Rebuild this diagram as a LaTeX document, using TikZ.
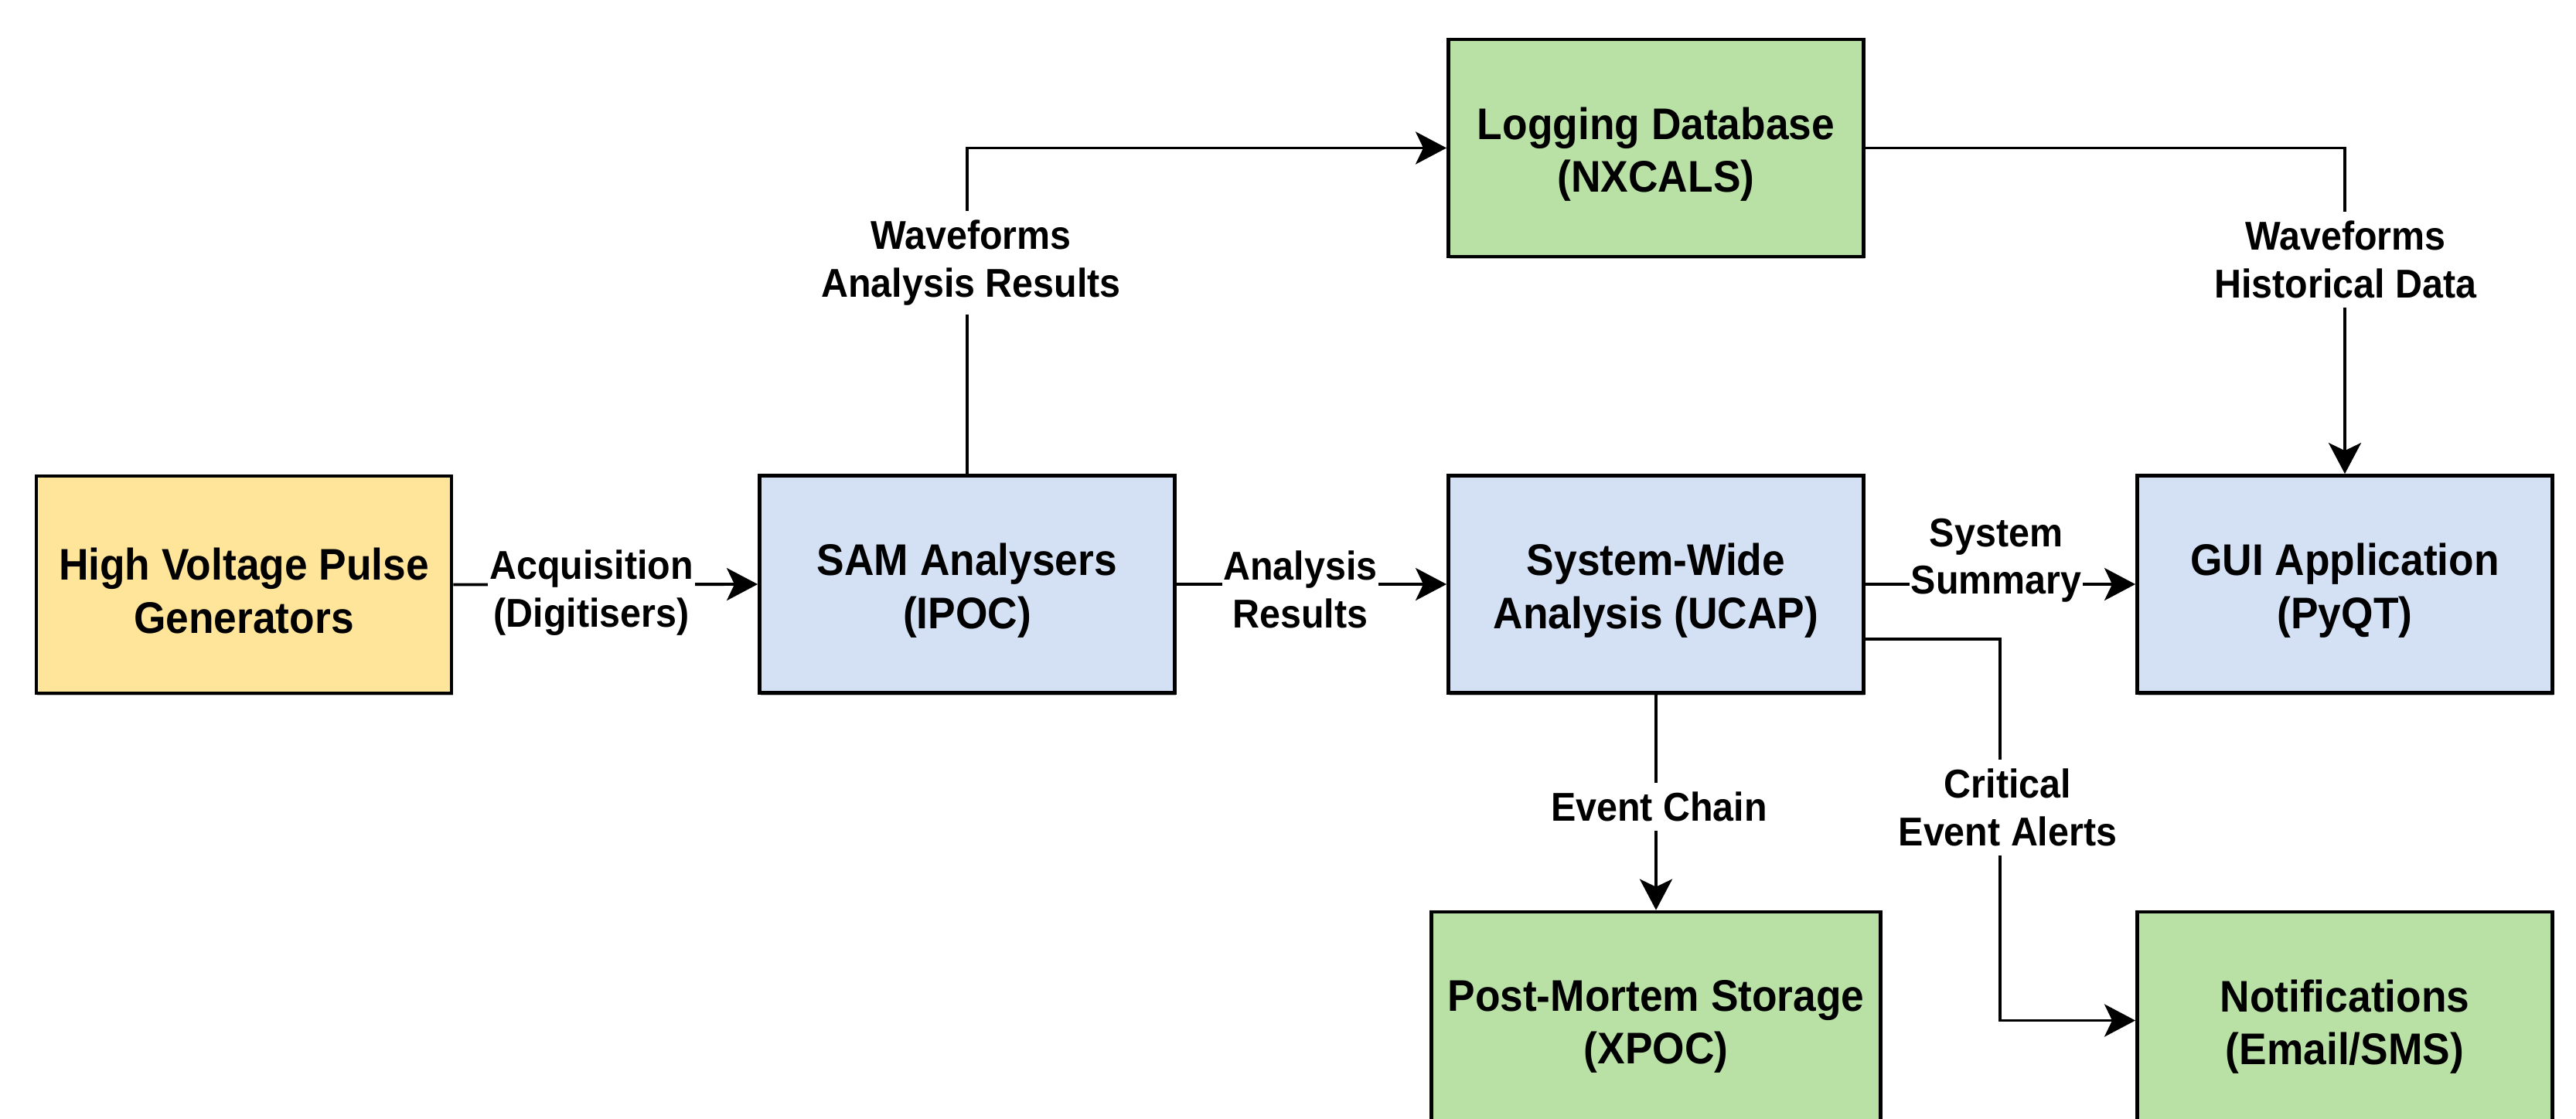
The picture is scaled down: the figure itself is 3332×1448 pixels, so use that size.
\documentclass[tikz,border=0pt]{standalone}
\usepackage{fontspec}
\setmainfont{Liberation Sans}[FakeStretch=0.93]
\usetikzlibrary{arrows.meta,shadows}

\definecolor{sourcefill}{HTML}{FFE599}
\definecolor{procfill}{HTML}{D4E1F5}
\definecolor{storefill}{HTML}{B9E0A5}

\tikzset{
  block/.style={draw=black, line width=1.3pt, minimum width=5.37cm,
    minimum height=2.81cm, inner sep=0pt,
    drop shadow={shadow xshift=0.4pt, shadow yshift=-0.9pt, opacity=0.25, fill=black}},
  blocktext/.style={align=center, inner sep=0pt, yshift=-2.3pt,
    font=\fontsize{16.3}{19.4}\selectfont\bfseries},
  flow/.style={draw=black, line width=1.1pt,
    -{Stealth[length=0.4cm, width=0.42cm, inset=0.1cm]}},
  lbl/.style={fill=white, align=center, inner xsep=0.5pt, inner ysep=3.4pt,
    font=\fontsize{14.8}{17.5}\selectfont\bfseries},
}

\begin{document}
\begin{tikzpicture}[x=0.01cm, y=-0.01cm]
\useasboundingbox (0,0) rectangle (3332,1448);
\clip (0,0) rectangle (3332,1448);

% blocks
\node[block, fill=sourcefill] (hv)  at (315.5,756.5) {};
\node[block, fill=procfill]   (sam) at (1251,756)    {};
\node[block, fill=procfill]   (swa) at (2142,756)    {};
\node[block, fill=procfill]   (gui) at (3033,756)    {};
\node[block, fill=storefill]  (log) at (2142,191.5)  {};
\node[block, fill=storefill, minimum width=5.81cm] (pm) at (2142,1320.5) {};
\node[block, fill=storefill]  (ntf) at (3033,1320.5) {};

% block captions
\node[blocktext] (hvtxt)  at (hv)  {High Voltage Pulse\\Generators};
\node[blocktext] (samtxt) at (sam) {SAM Analysers\\(IPOC)};
\node[blocktext] (swatxt) at (swa) {System-Wide\\Analysis (UCAP)};
\node[blocktext] (guitxt) at (gui) {GUI Application\\(PyQT)};
\node[blocktext] (logtxt) at (log) {Logging Database\\(NXCALS)};
\node[blocktext] (pmtxt)  at (pm)  {Post-Mortem Storage\\(XPOC)};
\node[blocktext] (ntftxt) at (ntf) {Notifications\\(Email/SMS)};

% helper points for the alert route
\coordinate (swaout) at (swa.east |- 0,827);
\coordinate (alertx) at (2587,0);

% connectors
\draw[flow] (hv.east) -- (sam.west);
\draw[flow] (sam.east) -- (swa.west);
\draw[flow] (sam.north) |- (log.west);
\draw[flow] (log.east) -| (gui.north);
\draw[flow] (swa.east) -- (gui.west);
\draw[flow] (swa.south) -- (pm.north);
\draw[flow] (swaout) -| (alertx |- ntf.west) -- (ntf.west);

% connector labels
\node[lbl] (lacq)   at (765,767)   {Acquisition\\(Digitisers)};
\node[lbl] (lres)   at (1682,763)  {Analysis\\Results};
\node[lbl] (lwave)  at (1256,340)  {Waveforms\\Analysis Results};
\node[lbl] (lhist)  at (3034,336)  {Waveforms\\Historical Data};
\node[lbl] (lsum)   at (2582,725)  {System\\Summary};
\node[lbl] (lchain) at (2146,1044) {Event Chain};
\node[lbl] (lalert) at (2597,1045) {Critical\\Event Alerts};
\end{tikzpicture}
\end{document}
